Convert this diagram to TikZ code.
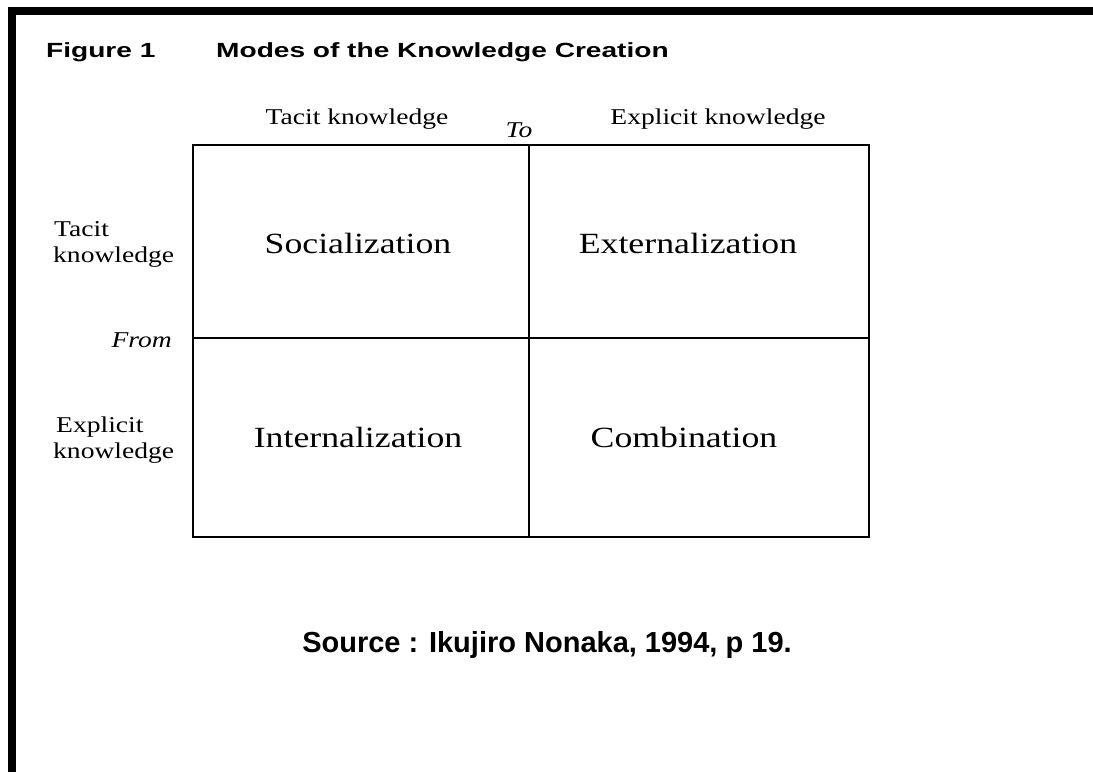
\documentclass[tikz,border=0pt]{standalone}
\usepackage{fontspec}
\setmainfont{Liberation Serif}
\newfontfamily\serifw[FakeStretch=1.22]{Liberation Serif}
\newfontfamily\headw[FakeStretch=1.37]{Liberation Sans}
\newfontfamily\srcw{Liberation Sans}
\tikzset{
  lbl/.style={font=\serifw\fontsize{22.6}{26}\selectfont, inner sep=0pt},
  ilbl/.style={font=\serifw\itshape\fontsize{22.6}{26}\selectfont, inner sep=0pt},
  cellt/.style={font=\serifw\fontsize{29.3}{34}\selectfont, inner sep=0pt},
  head/.style={font=\headw\bfseries\fontsize{20.5}{24}\selectfont, inner sep=0pt, anchor=base west},
  src/.style={font=\srcw\bfseries\fontsize{29}{34}\selectfont, inner sep=0pt},
  gridline/.style={line width=2pt},
}
\begin{document}
\begin{tikzpicture}[x=1pt,y=-1pt]
\useasboundingbox[fill=white] (0,0) rectangle (1093,772);
% outer frame (top and left only)
\fill[black] (8,7) rectangle (1093,15);
\fill[black] (8,7) rectangle (16,772);
% title
\node[head] (fig) at (46,57) {Figure 1};
\node[head] (title) at (216,57) {Modes of the Knowledge Creation};
% grid
\coordinate (tl) at (193,145);
\coordinate (br) at (869,537);
\coordinate (tm) at (529,145);
\coordinate (bm) at (529,537);
\coordinate (ml) at (193,338);
\coordinate (mr) at (869,338);
\draw[gridline] (tl) rectangle (br);
\draw[gridline] (tm) -- (bm);
\draw[gridline] (ml) -- (mr);
% column headings
\node[lbl, anchor=base] (ctacit) at (357,124) {Tacit knowledge};
\node[lbl, anchor=base] (cexpl) at (718,124) {Explicit knowledge};
\node[ilbl, anchor=base] (to) at (519,137) {To};
% row headings
\node[lbl, anchor=base west] (rtacit1) at (54,236) {Tacit};
\node[lbl, anchor=base west] (rtacit2) at (53,262) {knowledge};
\node[ilbl, anchor=base east] (from) at (172,347) {From};
\node[lbl, anchor=base west] (rexpl1) at (56,432) {Explicit};
\node[lbl, anchor=base west] (rexpl2) at (53,458) {knowledge};
% cells
\node[cellt] (soc) at (358,243) {Socialization};
\node[cellt] (ext) at (688,243) {Externalization};
\node[cellt] (int) at (358,437) {Internalization};
\node[cellt] (com) at (684,437) {Combination};
% source
\node[src] (source) at (547,645) {Source : Ikujiro Nonaka, 1994, p 19.};
\end{tikzpicture}
\end{document}
